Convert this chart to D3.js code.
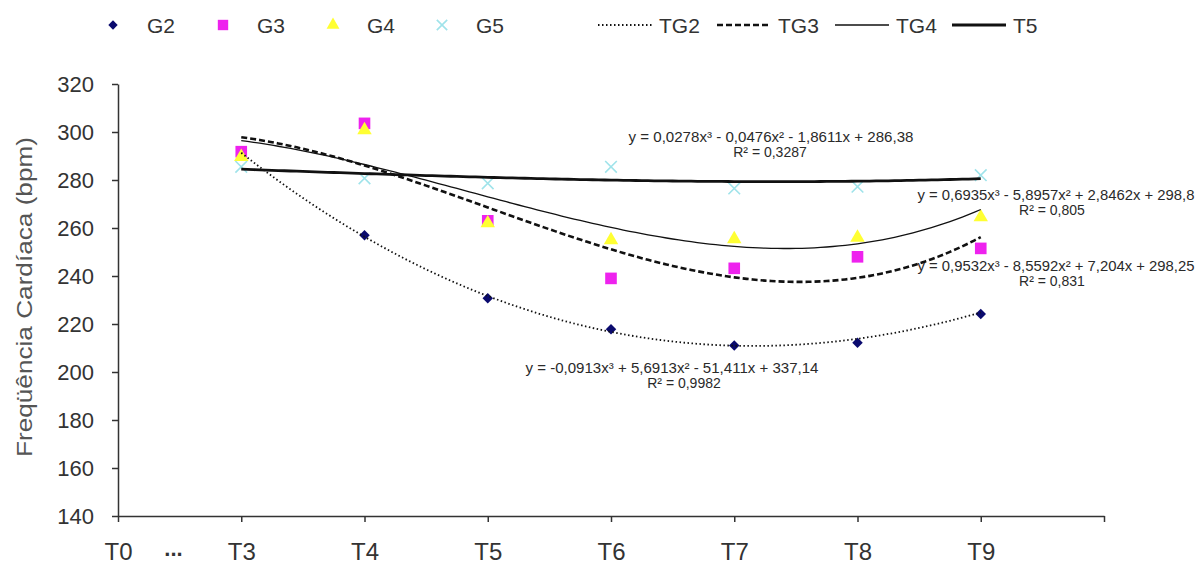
<!DOCTYPE html>
<html>
<head>
<meta charset="utf-8">
<title>Freqüência Cardíaca</title>
<style>
  body { margin: 0; background: #fff; }
  text { font-family: "Liberation Sans", Arial, sans-serif; fill: #2a2a2a; }
</style>
</head>
<body>
<script src="https://d3js.org/d3.v7.min.js"></script>
<div id="chart"></div>
<script>
// categories on the x axis (T0 is only a label, data starts at T3)
var categories = ["T0", "T3", "T4", "T5", "T6", "T7", "T8", "T9"];
var yTicks = [140, 160, 180, 200, 220, 240, 260, 280, 300, 320];

// observed values, T3..T9
var g2 = [291, 257, 230.7, 217.8, 211, 212.2, 224.2];
var g3 = [291.8, 303.6, 263, 239, 243.2, 248, 251.5];
var g4 = [289.7, 300.8, 262, 255, 255.4, 256, 264.5];
var g5 = [285.5, 280.7, 278.6, 285.5, 276.5, 277.2, 282];

// cubic trend line coefficients as printed on the chart (x = 1 for T3 ... 7 for T9)
var tg2 = [-0.0913, 5.6913, -51.411, 337.14];
var tg3 = [0.9532, -8.5592, 7.204, 298.25];
var tg4 = [0.6935, -5.8957, 2.8462, 298.8];
var t5 = [0.0278, -0.0476, -1.8611, 286.38];

var width = 1201, height = 564;

var svg = d3.select("#chart").append("svg")
    .attr("width", width)
    .attr("height", height);

// scales: slot 0 = T0 (on the y axis), slots 1..7 = T3..T9, slot 8 = end of axis
var x = d3.scaleLinear().domain([0, 8]).range([118, 1104]);
var y = d3.scaleLinear().domain([140, 320]).range([516, 84]);

// y axis
var yAxis = svg.append("g")
    .attr("transform", "translate(" + x(0) + ",0)")
    .call(d3.axisLeft(y).tickValues(yTicks).tickSize(6).tickSizeOuter(0).tickPadding(18));
yAxis.selectAll("text").style("font-size", "22px").style("fill", "#333").attr("dy", "0.36em");

// x axis
var xAxis = svg.append("g")
    .attr("transform", "translate(0," + y(140) + ")")
    .call(d3.axisBottom(x)
        .tickValues(d3.range(0, 9))
        .tickSize(6).tickSizeOuter(0).tickPadding(21)
        .tickFormat(function(d) { return categories[d] || ""; }));
xAxis.selectAll("text").style("font-size", "24px").style("fill", "#333");
svg.append("text")
    .attr("x", x(0.45)).attr("y", 556)
    .attr("text-anchor", "middle")
    .style("font-size", "22px").style("font-weight", "bold").style("fill", "#333")
    .text("...");

svg.selectAll(".domain, .tick line").attr("stroke", "#333").attr("stroke-width", 1.5);

// axis title
svg.append("text")
    .attr("transform", "translate(32," + 297 + ") rotate(-90)")
    .attr("text-anchor", "middle")
    .attr("textLength", 320).attr("lengthAdjust", "spacingAndGlyphs")
    .style("font-size", "22px").style("fill", "#555")
    .text("Freqüência Cardíaca (bpm)");

// markers (G2 diamond = square turned 45 degrees)
var markers = [
  {name: "G2", data: g2, shape: d3.symbolSquare, size: 55, rot: 45, fill: "#0a0a6e", stroke: "none"},
  {name: "G3", data: g3, shape: d3.symbolSquare, size: 135, rot: 0, fill: "#ee22ee", stroke: "none"},
  {name: "G4", data: g4, shape: d3.symbolTriangle, size: 90, rot: 0, fill: "#ffff33", stroke: "none"},
  {name: "G5", data: g5, shape: d3.symbolX, size: 90, rot: 0, fill: "none", stroke: "#9fe3ea"}
];

markers.forEach(function(m) {
  svg.append("g").selectAll("path")
    .data(m.data)
    .enter().append("path")
      .attr("transform", function(d, i) {
        return "translate(" + x(i + 1) + "," + y(d) + ") rotate(" + m.rot + ")";
      })
      .attr("d", d3.symbol().type(m.shape).size(m.size))
      .attr("fill", m.fill)
      .attr("stroke", m.stroke)
      .attr("stroke-width", 1.6);
});

// trend lines
function poly(c, t) { return c[0] * t * t * t + c[1] * t * t + c[2] * t + c[3]; }

var trends = [
  {name: "TG2", coef: tg2, width: 1.8, dash: "1.5,2.5"},
  {name: "TG3", coef: tg3, width: 2.6, dash: "6,3"},
  {name: "TG4", coef: tg4, width: 1.3, dash: null},
  {name: "T5", coef: t5, width: 2.8, dash: null}
];

var line = d3.line()
    .x(function(d) { return x(d[0]); })
    .y(function(d) { return y(d[1]); });

trends.forEach(function(tr) {
  var pts = d3.range(1, 7.001, 0.05).map(function(t) { return [t, poly(tr.coef, t)]; });
  svg.append("path")
    .datum(pts)
    .attr("d", line)
    .attr("fill", "none")
    .attr("stroke", "#111")
    .attr("stroke-width", tr.width)
    .attr("stroke-dasharray", tr.dash);
});

// equation labels
var labels = [
  {eq: "y = 0,0278x³ - 0,0476x² - 1,8611x + 286,38", r2: "R² = 0,3287", x: 771, y: 137, w: 285, rx: 770},
  {eq: "y = 0,6935x³ - 5,8957x² + 2,8462x + 298,8", r2: "R² = 0,805", x: 1056, y: 195, w: 277, rx: 1052},
  {eq: "y = 0,9532x³ - 8,5592x² + 7,204x + 298,25", r2: "R² = 0,831", x: 1056, y: 266, w: 277, rx: 1052},
  {eq: "y = -0,0913x³ + 5,6913x² - 51,411x + 337,14", r2: "R² = 0,9982", x: 672, y: 368, w: 293, rx: 684}
];

labels.forEach(function(l) {
  svg.append("text")
    .attr("x", l.x).attr("y", l.y + 5)
    .attr("text-anchor", "middle")
    .attr("textLength", l.w).attr("lengthAdjust", "spacingAndGlyphs")
    .style("font-size", "14px")
    .text(l.eq);
  svg.append("text")
    .attr("x", l.rx).attr("y", l.y + 20)
    .attr("text-anchor", "middle")
    .style("font-size", "14px")
    .text(l.r2);
});

// legend
var legendY = 25;
var symX = [113, 223, 333, 442];
markers.forEach(function(m, i) {
  svg.append("path")
    .attr("transform", "translate(" + symX[i] + "," + legendY + ") rotate(" + m.rot + ")")
    .attr("d", d3.symbol().type(m.shape).size(m.size * 0.8))
    .attr("fill", m.fill)
    .attr("stroke", m.stroke)
    .attr("stroke-width", 1.6);
  svg.append("text")
    .attr("x", symX[i] + 34).attr("y", legendY + 8)
    .style("font-size", "21px").style("fill", "#333")
    .text(m.name);
});

var lineX = [598, 717, 835, 952];
trends.forEach(function(tr, i) {
  svg.append("line")
    .attr("x1", lineX[i]).attr("x2", lineX[i] + 54)
    .attr("y1", legendY).attr("y2", legendY)
    .attr("stroke", "#111")
    .attr("stroke-width", tr.width)
    .attr("stroke-dasharray", tr.dash);
  svg.append("text")
    .attr("x", lineX[i] + 61).attr("y", legendY + 8)
    .style("font-size", "21px").style("fill", "#333")
    .text(tr.name);
});
</script>
</body>
</html>
